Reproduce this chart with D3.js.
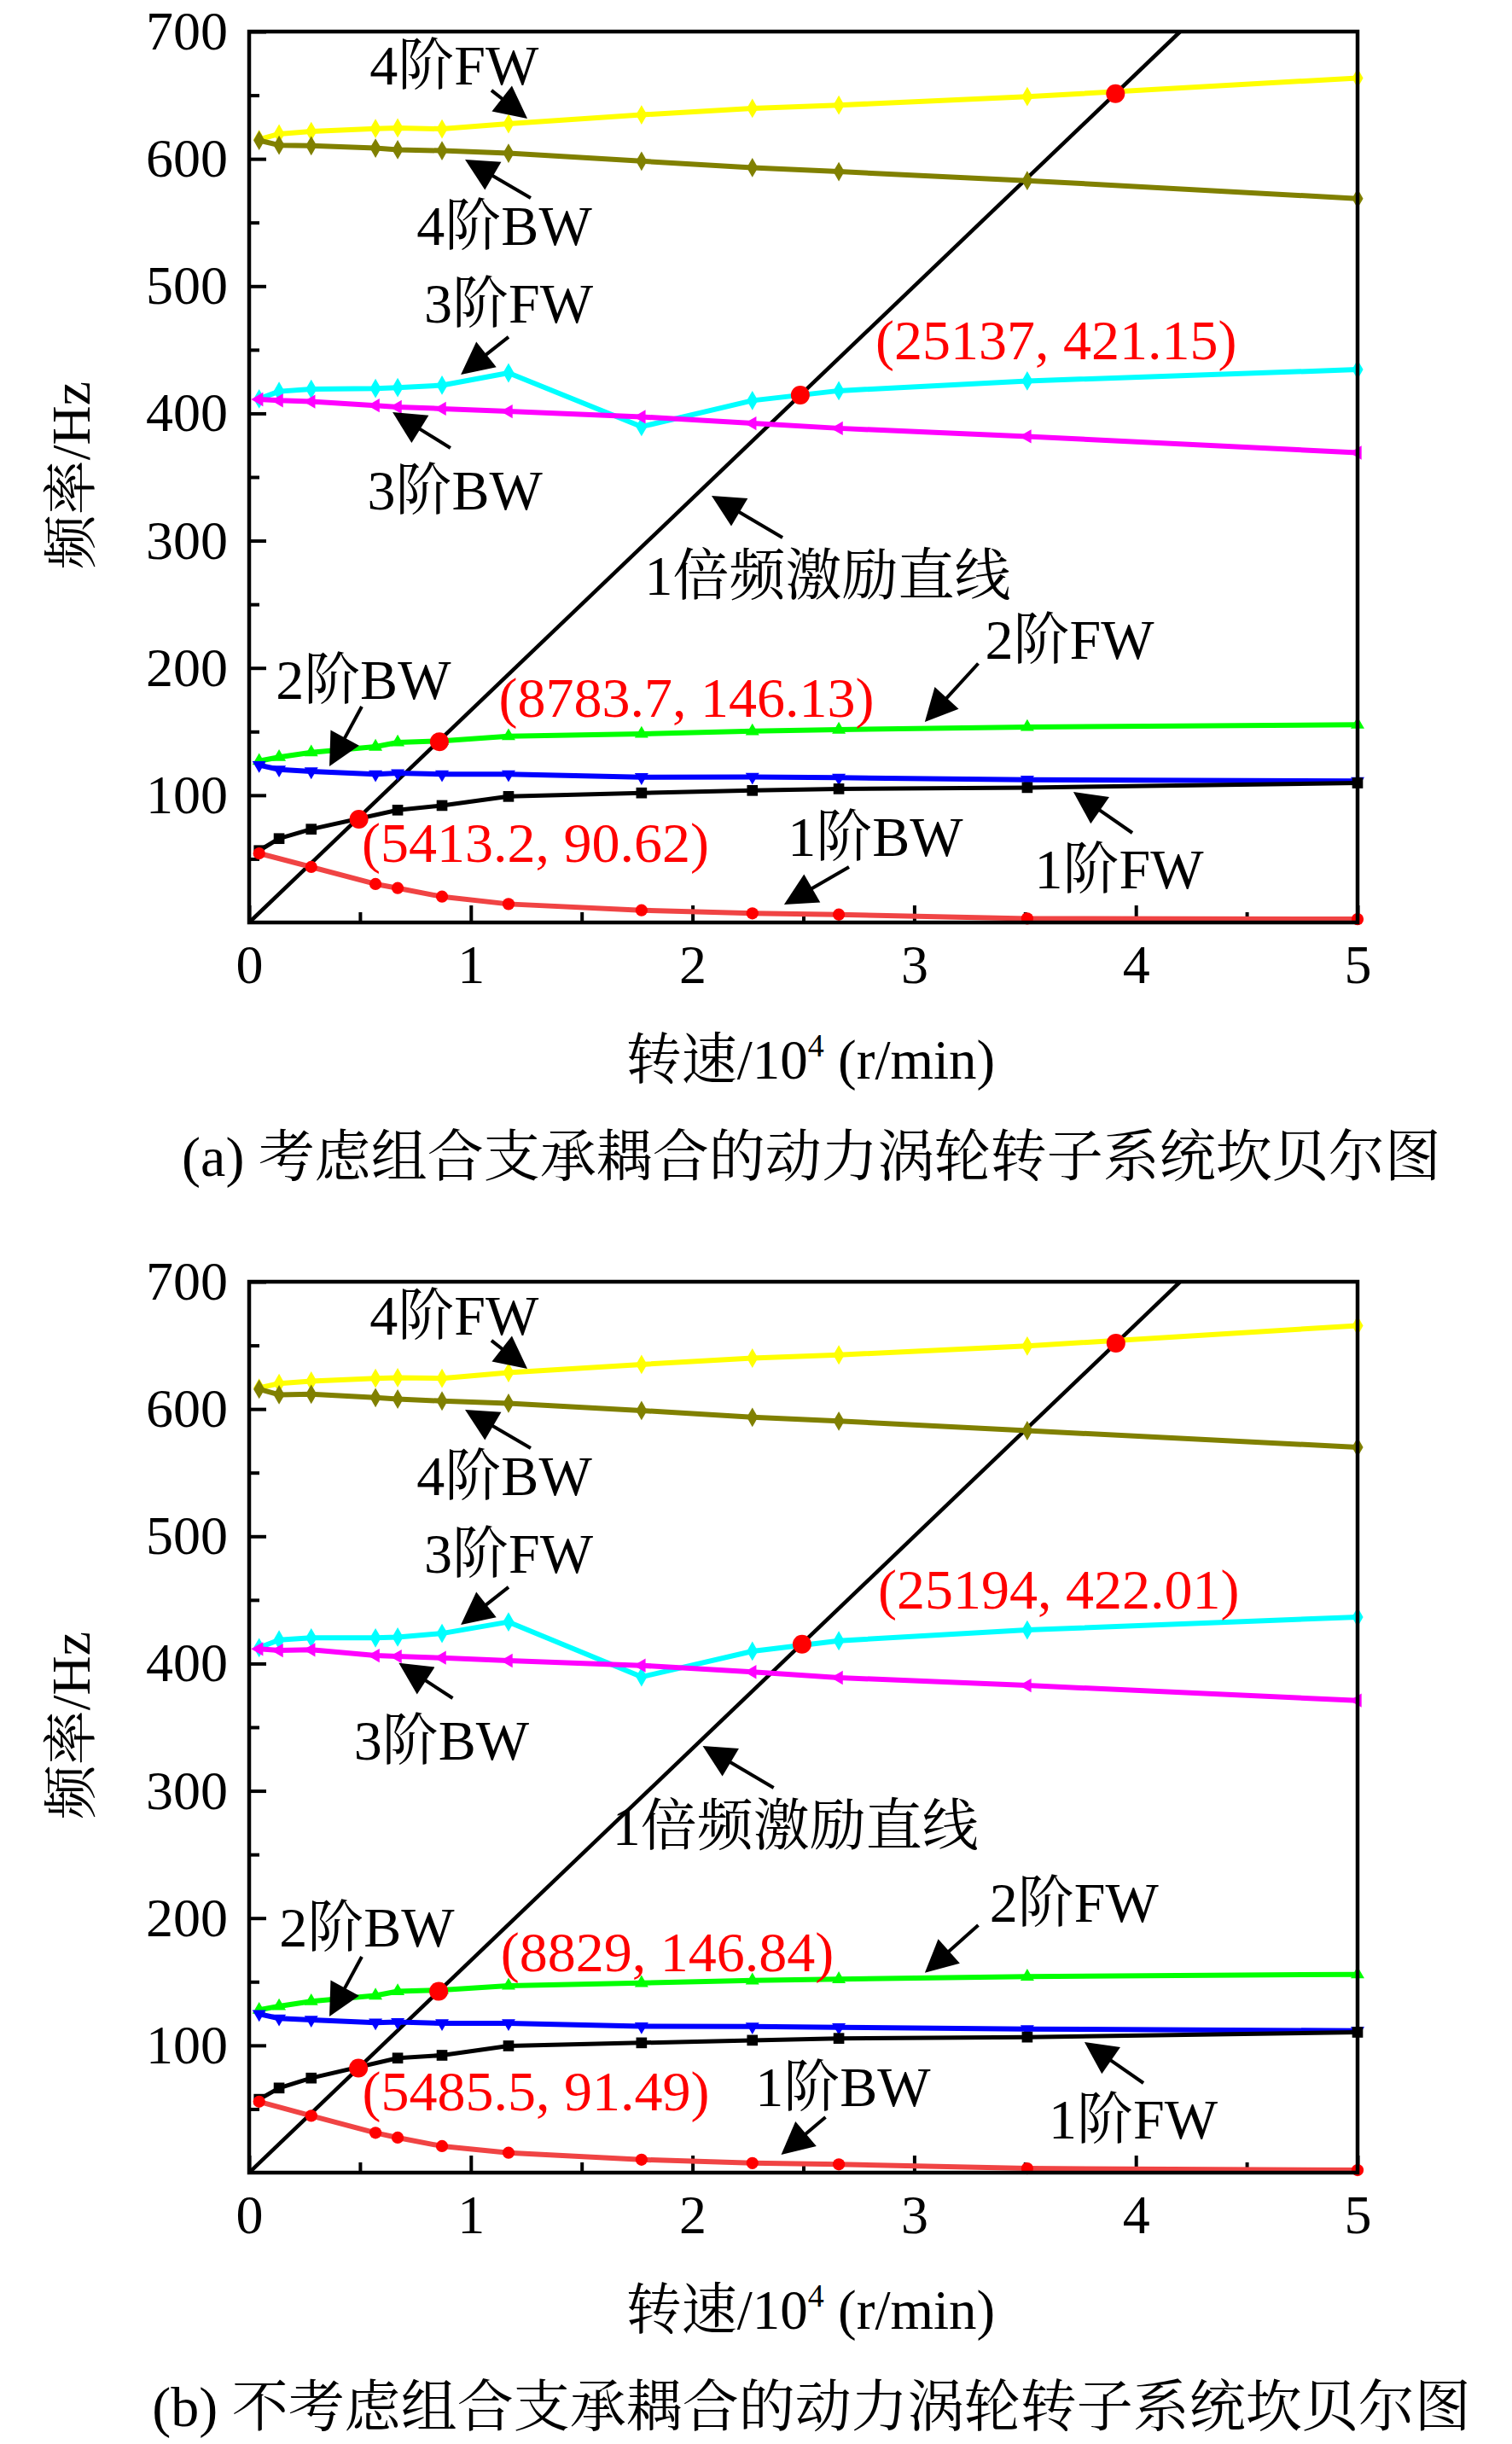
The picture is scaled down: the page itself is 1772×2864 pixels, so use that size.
<!DOCTYPE html>
<html>
<head>
<meta charset="utf-8">
<script src="https://cdn.jsdelivr.net/npm/d3@7"></script>
<style>
  body { margin: 0; background: #fff; }
  text { font-family: "Liberation Serif", "Times New Roman", "Noto Serif CJK SC", "Noto Sans CJK SC", serif; }
</style>
</head>
<body>
<div class="chart"></div>
<script>
// speed grid, unit 10^4 r/min
var speed = [0.045, 0.135, 0.28, 0.57, 0.67, 0.87, 1.17, 1.77, 2.27, 2.66, 3.51, 5.0];

// (a) with bearing coupling
var fw4A = [615.2, 619.6, 621.5, 623.8, 624.3, 623.5, 627.6, 634.6, 639.7, 642.2, 648.9, 663.5];
var bw4A = [614.5, 610.7, 610.3, 608.4, 607.2, 606.4, 604.4, 598.2, 593.1, 590.0, 582.9, 568.8];
var fw3A = [411.4, 417.3, 419.0, 419.6, 420.3, 422.1, 431.8, 389.6, 410.1, 417.8, 425.5, 434.4];
var bw3A = [411.0, 410.1, 409.3, 406.2, 405.0, 403.7, 401.6, 397.3, 392.2, 388.3, 381.9, 369.1];
var fw2A = [126.9, 129.9, 133.6, 138.1, 141.5, 142.6, 146.4, 148.2, 150.3, 151.5, 153.6, 155.4];
var bw2A = [123.6, 120.2, 118.7, 116.5, 117.3, 116.5, 116.5, 114.2, 114.4, 113.8, 112.2, 111.1];
var fw1A = [56.5, 65.9, 73.3, null, 88.3, 91.9, 99.0, 101.8, 103.7, 105.0, 106.0, 109.6];
var bw1A = [54.3, null, 43.6, 30.2, 27.0, 20.3, 14.5, 9.6, 7.2, 6.2, 3.1, 2.6];
var crossXA = [0.495, 0.858, 2.486, 3.908];
var crossYA = [81.1, 142.0, 414.4, 651.2];
var crossTextA = ["(5413.2, 90.62)", "(8783.7, 146.13)", "(25137, 421.15)"];

// (b) without bearing coupling
var fw4B = [616.5, 620.1, 621.9, 624.1, 624.6, 624.1, 628.6, 635.0, 640.0, 642.5, 649.5, 665.5];
var bw4B = [615.6, 611.2, 611.6, 608.9, 607.8, 606.3, 604.5, 598.8, 593.5, 590.5, 583.0, 570.0];
var fw3B = [412.5, 418.6, 420.2, 420.2, 420.8, 423.7, 432.7, 389.5, 409.7, 417.9, 426.4, 436.5];
var bw3B = [411.5, 410.3, 410.8, 406.3, 405.6, 404.5, 402.3, 398.5, 393.4, 388.9, 382.8, 371.0];
var fw2B = [127.9, 130.8, 134.6, 139.1, 142.5, 143.5, 146.9, 149.0, 151.0, 152.0, 154.0, 155.8];
var bw2B = [124.6, 121.2, 120.1, 117.9, 118.3, 117.4, 117.4, 115.0, 114.8, 114.2, 112.8, 111.5];
var fw1B = [57.6, 66.5, 74.3, null, 90.0, 92.2, 99.6, 102.0, 104.0, 105.5, 106.5, 110.3];
var bw1B = [55.8, null, 44.7, 31.3, 27.5, 20.8, 15.6, 10.2, 7.5, 6.5, 3.3, 2.0];
var crossXB = [0.493, 0.855, 2.494, 3.91];
var crossYB = [82.2, 142.5, 415.2, 651.8];
var crossTextB = ["(5485.5, 91.49)", "(8829, 146.84)", "(25194, 422.01)"];

// 1x excitation line end points
var lineX = [0, 4.2];
var lineY = [0, 700];

var noteLabels = ["4阶FW", "4阶BW", "3阶FW", "3阶BW", "1倍频激励直线", "2阶FW", "2阶BW", "1阶BW", "1阶FW"];
var xTicks = [0, 1, 2, 3, 4, 5];
var yTicks = [100, 200, 300, 400, 500, 600, 700];
var captions = ["(a) 考虑组合支承耦合的动力涡轮转子系统坎贝尔图", "(b) 不考虑组合支承耦合的动力涡轮转子系统坎贝尔图"];

var svgWidth = 1772;
var svgHeight = 2864;

var svg = d3.select(".chart")
  .append("svg")
  .attr("width", svgWidth)
  .attr("height", svgHeight);

var xScale = d3.scaleLinear().domain([0, 5]).range([292, 1591]);

// styles for each mode
var styles = [
  { color: "#ffff00", mark: d3.symbolDiamond, size: 150, rot: 0, width: 6 },
  { color: "#808000", mark: d3.symbolDiamond, size: 150, rot: 0, width: 6 },
  { color: "#00ffff", mark: d3.symbolDiamond, size: 150, rot: 0, width: 6 },
  { color: "#ff00ff", mark: d3.symbolTriangle, size: 115, rot: -90, width: 6 },
  { color: "#00ff00", mark: d3.symbolTriangle, size: 110, rot: 0, width: 6 },
  { color: "#0000ff", mark: d3.symbolTriangle, size: 110, rot: 180, width: 6 },
  { color: "#000000", mark: d3.symbolSquare, size: 160, rot: 0, width: 5 },
  { color: "#f04444", mark: d3.symbolCircle, size: 160, rot: 0, width: 6, markColor: "#ff0000" }
];

// note layout: [text x, text baseline y, tail x, tail y, tip x, tip y] in data units
var notesA = [
  [0.925, 658.4, 1.093, 653.8, 1.255, 631.6],
  [1.151, 532.5, 1.270, 569.3, 0.974, 599.4],
  [1.170, 471.4, 1.170, 460.0, 0.955, 430.5],
  [0.928, 324.5, 0.908, 372.8, 0.647, 401.0],
  [2.610, 257.5, 2.406, 302.4, 2.086, 335.3],
  [3.701, 207.2, 3.289, 203.5, 3.048, 157.6],
  [0.515, 175.7, 0.508, 169.6, 0.362, 122.7],
  [2.825, 52.3, 2.706, 43.6, 2.413, 14.1],
  [3.924, 26.8, 3.984, 70.4, 3.718, 102.6]
];
var notesB = [
  [0.925, 658.4, 1.093, 653.8, 1.255, 631.6],
  [1.151, 532.5, 1.270, 569.3, 0.974, 599.4],
  [1.170, 471.4, 1.170, 460.0, 0.955, 430.5],
  [0.868, 324.5, 0.918, 372.8, 0.675, 400.5],
  [2.464, 257.5, 2.366, 302.4, 2.046, 335.3],
  [3.721, 197.2, 3.289, 194.5, 3.048, 157.0],
  [0.531, 178.0, 0.508, 169.6, 0.362, 122.7],
  [2.679, 52.3, 2.600, 43.6, 2.400, 14.1],
  [3.988, 26.8, 4.034, 70.4, 3.768, 102.6]
];
// red label start x, baseline y
var crossPosA = [[0.508, 47.6], [1.126, 161.6], [2.825, 442.2]];
var crossPosB = [[0.510, 48.7], [1.135, 158.2], [2.837, 443.2]];

function drawPanel(top, series, crossX, crossY, crossText, crossPos, notes, caption) {
  var yScale = d3.scaleLinear().domain([0, 700]).range([top + 1044, top]);
  var g = svg.append("g");

  // ticks and labels
  var minorY = g.append("g").attr("transform", "translate(292,0)")
    .call(d3.axisLeft(yScale).tickValues(d3.range(50, 700, 100)).tickSize(-12).tickFormat(""));
  var majorY = g.append("g").attr("transform", "translate(292,0)")
    .call(d3.axisLeft(yScale).tickValues(yTicks).tickSize(-20).tickPadding(25).tickFormat(d3.format("d")));
  var minorX = g.append("g").attr("transform", `translate(0, ${top + 1044})`)
    .call(d3.axisBottom(xScale).tickValues(d3.range(0.5, 5, 1)).tickSize(-12).tickFormat(""));
  var majorX = g.append("g").attr("transform", `translate(0, ${top + 1044})`)
    .call(d3.axisBottom(xScale).tickValues(xTicks).tickSize(-20).tickPadding(26).tickFormat(d3.format("d")));

  [minorY, majorY, minorX, majorX].forEach(function(a) {
    a.select(".domain").remove();
    a.selectAll("line").attr("stroke", "#000").attr("stroke-width", 4);
    a.selectAll("text").attr("font-size", 64).attr("fill", "#000")
      .style("font-family", '"Liberation Serif", serif');
  });

  // 1x excitation line
  var line = d3.line().x(d => xScale(d[0])).y(d => yScale(d[1]));
  g.append("path")
    .attr("d", line(d3.zip(lineX, lineY)))
    .attr("fill", "none").attr("stroke", "#000").attr("stroke-width", 4.5);

  // mode curves
  series.forEach(function(vals, i) {
    var st = styles[i];
    var pts = speed.map((s, k) => [s, vals[k]]).filter(p => p[1] !== null);
    g.append("path")
      .attr("d", line(pts))
      .attr("fill", "none")
      .attr("stroke", st.color)
      .attr("stroke-width", st.width)
      .attr("stroke-linejoin", "round");
    g.selectAll(null)
      .data(pts)
      .enter()
      .append("path")
      .attr("d", d3.symbol().type(st.mark).size(st.size))
      .attr("transform", d => `translate(${xScale(d[0])}, ${yScale(d[1])}) rotate(${st.rot})`)
      .attr("fill", st.markColor || st.color);
  });

  // frame
  g.append("rect")
    .attr("x", 292).attr("y", top)
    .attr("width", 1299).attr("height", 1044)
    .attr("fill", "none").attr("stroke", "#000").attr("stroke-width", 4.5);

  // crossing points
  g.selectAll(null)
    .data(d3.zip(crossX, crossY))
    .enter()
    .append("circle")
    .attr("cx", d => xScale(d[0]))
    .attr("cy", d => yScale(d[1]))
    .attr("r", 11)
    .attr("fill", "#ff0000");

  crossText.forEach(function(t, i) {
    g.append("text")
      .attr("x", xScale(crossPos[i][0]))
      .attr("y", yScale(crossPos[i][1]))
      .attr("font-size", 66)
      .attr("fill", "#ff0000")
      .text(t);
  });

  // notes with arrows
  notes.forEach(function(n, i) {
    g.append("text")
      .attr("x", xScale(n[0]))
      .attr("y", yScale(n[1]))
      .attr("text-anchor", "middle")
      .attr("font-size", 66)
      .attr("fill", "#000")
      .text(noteLabels[i]);

    var tx = xScale(n[2]), ty = yScale(n[3]);
    var hx = xScale(n[4]), hy = yScale(n[5]);
    var len = Math.hypot(hx - tx, hy - ty);
    var ux = (hx - tx) / len, uy = (hy - ty) / len;
    var L = 38, W = 19;
    var bx = hx - ux * L, by = hy - uy * L;
    g.append("line")
      .attr("x1", tx).attr("y1", ty)
      .attr("x2", bx + ux * 4).attr("y2", by + uy * 4)
      .attr("stroke", "#000").attr("stroke-width", 4);
    g.append("polygon")
      .attr("points", [[hx, hy], [bx - uy * W, by + ux * W], [bx + uy * W, by - ux * W]].join(" "))
      .attr("fill", "#000");
  });

  // axis titles
  g.append("text")
    .attr("transform", `translate(83, ${top + 520}) rotate(-90)`)
    .attr("text-anchor", "middle")
    .attr("dominant-baseline", "central")
    .attr("font-size", 64)
    .text("频率/Hz");

  var xt = g.append("text")
    .attr("x", 950)
    .attr("y", top + 1227)
    .attr("text-anchor", "middle")
    .attr("font-size", 65);
  xt.append("tspan").text("转速/10");
  xt.append("tspan").attr("font-size", 38).attr("dy", -26).text("4");
  xt.append("tspan").attr("dy", 26).text(" (r/min)");

  g.append("text")
    .attr("x", 951)
    .attr("y", top + 1341)
    .attr("text-anchor", "middle")
    .attr("font-size", 66)
    .text(caption);
}

drawPanel(37, [fw4A, bw4A, fw3A, bw3A, fw2A, bw2A, fw1A, bw1A], crossXA, crossYA, crossTextA, crossPosA, notesA, captions[0]);
drawPanel(1502, [fw4B, bw4B, fw3B, bw3B, fw2B, bw2B, fw1B, bw1B], crossXB, crossYB, crossTextB, crossPosB, notesB, captions[1]);
</script>
</body>
</html>
